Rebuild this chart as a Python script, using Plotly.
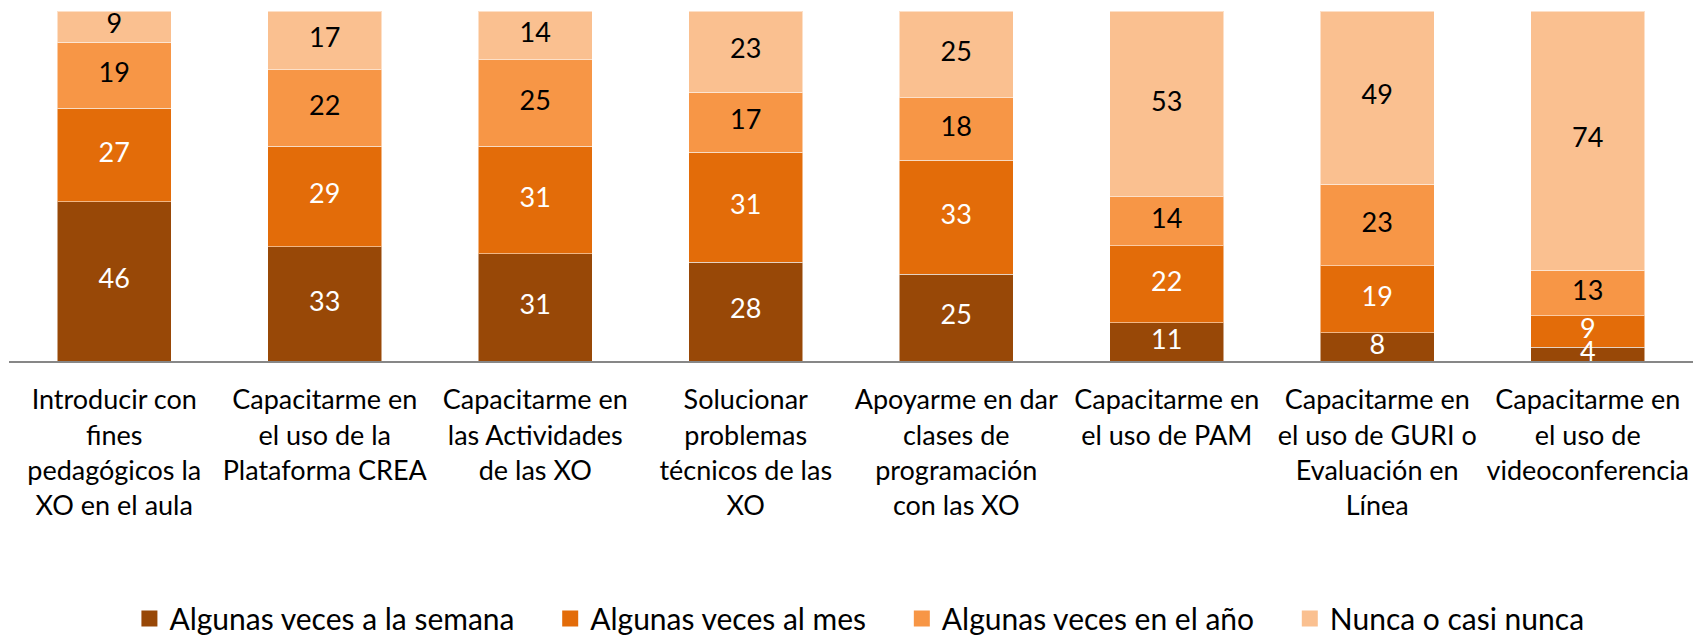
import plotly.graph_objects as go

categories = [
    "Introducir con<br>fines<br>pedagógicos la<br>XO en el aula",
    "Capacitarme en<br>el uso de la<br>Plataforma CREA",
    "Capacitarme en<br>las Actividades<br>de las XO",
    "Solucionar<br>problemas<br>técnicos de las<br>XO",
    "Apoyarme en dar<br>clases de<br>programación<br>con las XO",
    "Capacitarme en<br>el uso de PAM",
    "Capacitarme en<br>el uso de GURI o<br>Evaluación en<br>Línea",
    "Capacitarme en<br>el uso de<br>videoconferencia",
]

series_names = [
    "Algunas veces a la semana",
    "Algunas veces al mes",
    "Algunas veces en el año",
    "Nunca o casi nunca",
]
semana = [46, 33, 31, 28, 25, 11, 8, 4]
mes = [27, 29, 31, 31, 33, 22, 19, 9]
anio = [19, 22, 25, 17, 18, 14, 23, 13]
nunca = [9, 17, 14, 23, 25, 53, 49, 74]

colors = ["#984807", "#E36C09", "#F79646", "#FAC090"]
text_colors = ["#FFFFFF", "#FFFFFF", "#000000", "#000000"]

FONT = "Lato, 'Liberation Sans', sans-serif"
FS = 27
LFS = 30
PAD = "\u00a0" * 4

all_series = [semana, mes, anio, nunca]
totals = [sum(col) for col in zip(*all_series)]

fig = go.Figure()
base = [0.0] * len(categories)
label_traces = []
for i, (name, vals, col, tcol) in enumerate(zip(series_names, all_series, colors, text_colors)):
    pct = [v / t * 100 for v, t in zip(vals, totals)]
    fig.add_trace(go.Bar(
        x=categories, y=pct, name=name, showlegend=False,
        marker=dict(color=col, line=dict(color="rgba(255,255,255,0.5)", width=1)),
        textposition="none", hoverinfo="skip",
    ))
    mids = [b + p / 2 for b, p in zip(base, pct)]
    label_traces.append(go.Scatter(
        x=categories, y=mids, mode="text", text=[str(v) for v in vals],
        textposition="middle center",
        textfont=dict(color=tcol, size=FS, family=FONT),
        showlegend=False, hoverinfo="skip", cliponaxis=False,
    ))
    base = [b + p for b, p in zip(base, pct)]

for tr in label_traces:
    fig.add_trace(tr)

# legend entries (square swatches)
for i, (name, col) in enumerate(zip(series_names, colors)):
    fig.add_trace(go.Scatter(
        x=[None], y=[None], mode="markers", name=name + (PAD if i < 3 else ""),
        marker=dict(symbol="square", size=17, color=col),
        showlegend=True, hoverinfo="skip",
    ))

fig.update_layout(
    width=1695, height=627,
    barmode="stack", bargap=0.46,
    margin=dict(l=1, r=10, t=3, b=274, autoexpand=False),
    plot_bgcolor="white", paper_bgcolor="white",
    font=dict(family=FONT, size=FS, color="#000000"),
    xaxis=dict(showline=True, linecolor="#878787", linewidth=2, ticks="",
               automargin=False, ticklabelstandoff=14,
               tickfont=dict(size=FS, family=FONT, color="#000000"), showgrid=False),
    yaxis=dict(visible=False, range=[0, 100], automargin=False),
    legend=dict(orientation="h", x=0.505, xanchor="center", y=-0.736, yanchor="middle",
                traceorder="normal", font=dict(size=LFS, family=FONT, color="#000000"),
                itemwidth=30),
    showlegend=True,
)

fig.write_html("out.html")
